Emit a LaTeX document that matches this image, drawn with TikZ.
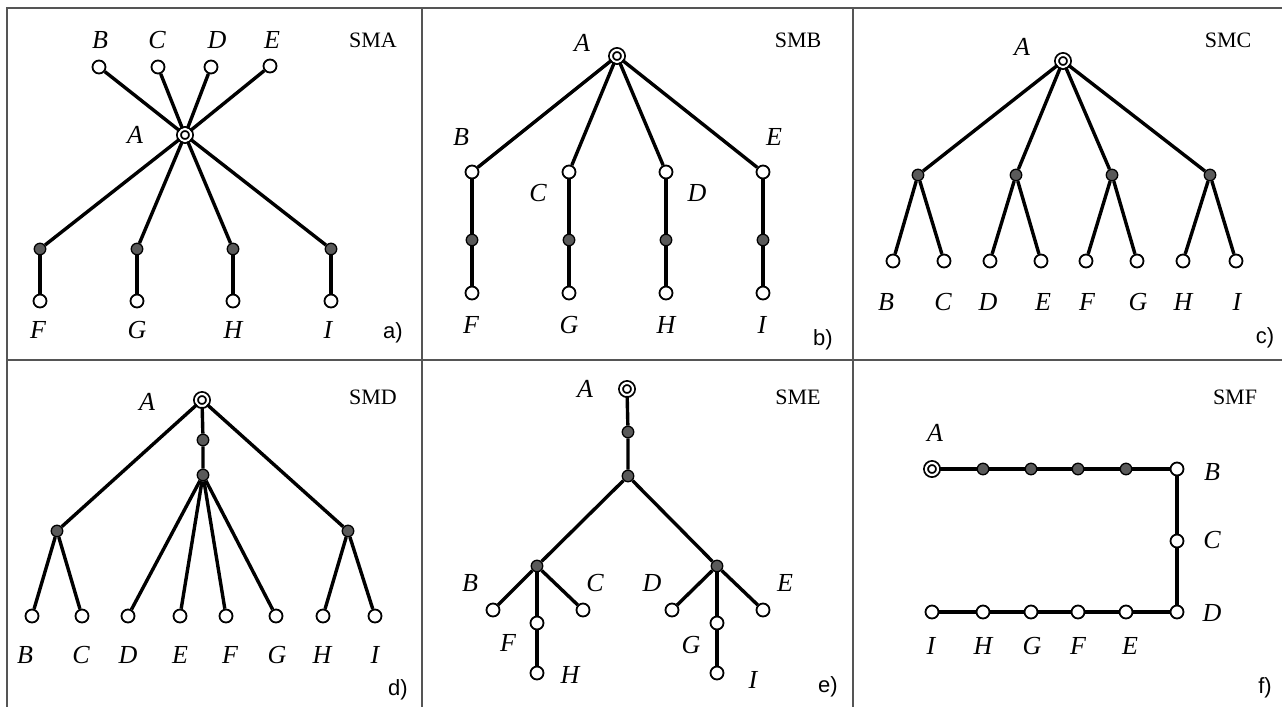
\documentclass[tikz,border=0pt]{standalone}
\usepackage{fontspec}
\setmainfont{Liberation Serif}
\newfontfamily\arialf{Liberation Sans}
\definecolor{dotgray}{HTML}{5A5A5A}
\definecolor{framegray}{HTML}{555555}
\tikzset{
 edge/.style={line width=3.4pt},
 opn/.style={circle, draw=black, fill=white, line width=1.8pt, minimum size=13pt, inner sep=0pt},
 gdot/.style={circle, draw=black, fill=dotgray, line width=1.3pt, minimum size=11.5pt, inner sep=0pt},
 root/.style={circle, draw=black, double=white, double distance=2.2pt, line width=1.8pt, fill=white, minimum size=12pt, inner sep=0pt},
 lbl/.style={font=\fontsize{26}{30}\selectfont\itshape, inner sep=0pt},
 ttl/.style={font=\fontsize{22}{25}\selectfont, inner sep=0pt},
 tag/.style={font=\arialf\fontsize{22}{25}\selectfont, inner sep=0pt},
 frame/.style={draw=framegray, line width=1.6pt}
}
\begin{document}
\begin{tikzpicture}[x=1pt,y=-1pt]
\useasboundingbox (0,0) rectangle (1282,707);
% frame
\draw[frame] (1282,8) -- (7,8) -- (7,707);
\draw[frame] (422,8) -- (422,707);
\draw[frame] (853,8) -- (853,707);
\draw[frame] (7,360) -- (1282,360);

% ---------- panel a ----------
\node[root] (aA) at (185,135) {};
\node[opn] (aB) at (99,67) {};
\node[opn] (aC) at (158,67) {};
\node[opn] (aD) at (211,67) {};
\node[opn] (aE) at (270,66) {};
\node[gdot] (aFg) at (40,249) {};
\node[gdot] (aGg) at (137,249) {};
\node[gdot] (aHg) at (233,249) {};
\node[gdot] (aIg) at (331,249) {};
\node[opn] (aF) at (40,301) {};
\node[opn] (aG) at (137,301) {};
\node[opn] (aH) at (233,301) {};
\node[opn] (aI) at (331,301) {};
\foreach \t in {B,C,D,E,Fg,Gg,Hg,Ig} \draw[edge] (aA) -- (a\t);
\draw[edge] (aFg) -- (aF); \draw[edge] (aGg) -- (aG);
\draw[edge] (aHg) -- (aH); \draw[edge] (aIg) -- (aI);
\node[lbl] (aAl) at (135,135) {A};
\node[lbl] (aBl) at (100,40) {B};
\node[lbl] (aCl) at (157,40) {C};
\node[lbl] (aDl) at (217,40) {D};
\node[lbl] (aEl) at (272,40) {E};
\node[lbl] (aFl) at (38,330) {F};
\node[lbl] (aGl) at (137,330) {G};
\node[lbl] (aHl) at (233,330) {H};
\node[lbl] (aIl) at (328,330) {I};
\node[ttl] (aT) at (373,40) {SMA};
\node[tag] (aK) at (393,333) {a)};

% ---------- panel b ----------
\node[root] (bA) at (617,56) {};
\node[opn] (bB) at (472,172) {};
\node[opn] (bC) at (569,172) {};
\node[opn] (bD) at (666,172) {};
\node[opn] (bE) at (763,172) {};
\node[gdot] (bBg) at (472,240) {};
\node[gdot] (bCg) at (569,240) {};
\node[gdot] (bDg) at (666,240) {};
\node[gdot] (bEg) at (763,240) {};
\node[opn] (bF) at (472,293) {};
\node[opn] (bG) at (569,293) {};
\node[opn] (bH) at (666,293) {};
\node[opn] (bI) at (763,293) {};
\foreach \t in {B,C,D,E} \draw[edge] (bA) -- (b\t);
\draw[edge] (bB) -- (bBg) -- (bF);
\draw[edge] (bC) -- (bCg) -- (bG);
\draw[edge] (bD) -- (bDg) -- (bH);
\draw[edge] (bE) -- (bEg) -- (bI);
\node[lbl] (bAl) at (582,43) {A};
\node[lbl] (bBl) at (461,137) {B};
\node[lbl] (bCl) at (538,193) {C};
\node[lbl] (bDl) at (697,193) {D};
\node[lbl] (bEl) at (774,137) {E};
\node[lbl] (bFl) at (471,325) {F};
\node[lbl] (bGl) at (569,325) {G};
\node[lbl] (bHl) at (666,325) {H};
\node[lbl] (bIl) at (762,325) {I};
\node[ttl] (bT) at (798,40) {SMB};
\node[tag] (bK) at (823,340) {b)};

% ---------- panel c ----------
\node[root] (cA) at (1063,61) {};
\node[gdot] (cg1) at (918,175) {};
\node[gdot] (cg2) at (1016,175) {};
\node[gdot] (cg3) at (1112,175) {};
\node[gdot] (cg4) at (1210,175) {};
\node[opn] (cB) at (893,261) {};
\node[opn] (cC) at (944,261) {};
\node[opn] (cD) at (990,261) {};
\node[opn] (cE) at (1041,261) {};
\node[opn] (cF) at (1086,261) {};
\node[opn] (cG) at (1137,261) {};
\node[opn] (cH) at (1183,261) {};
\node[opn] (cI) at (1236,261) {};
\foreach \t in {1,2,3,4} \draw[edge] (cA) -- (cg\t);
\draw[edge] (cB) -- (cg1) -- (cC);
\draw[edge] (cD) -- (cg2) -- (cE);
\draw[edge] (cF) -- (cg3) -- (cG);
\draw[edge] (cH) -- (cg4) -- (cI);
\node[lbl] (cAl) at (1022,47) {A};
\node[lbl] (cBl) at (886,302) {B};
\node[lbl] (cCl) at (943,302) {C};
\node[lbl] (cDl) at (988,302) {D};
\node[lbl] (cEl) at (1043,302) {E};
\node[lbl] (cFl) at (1087,302) {F};
\node[lbl] (cGl) at (1138,302) {G};
\node[lbl] (cHl) at (1183,302) {H};
\node[lbl] (cIl) at (1237,302) {I};
\node[ttl] (cT) at (1228,40) {SMC};
\node[tag] (cK) at (1265,338) {c)};

% ---------- panel d ----------
\node[root] (dA) at (202,400) {};
\node[gdot] (dm1) at (203,440) {};
\node[gdot] (dm2) at (203,475) {};
\node[gdot] (dL) at (57,531) {};
\node[gdot] (dR) at (348,531) {};
\node[opn] (dB) at (32,616) {};
\node[opn] (dC) at (82,616) {};
\node[opn] (dD) at (128,616) {};
\node[opn] (dE) at (180,616) {};
\node[opn] (dF) at (226,616) {};
\node[opn] (dG) at (276,616) {};
\node[opn] (dH) at (323,616) {};
\node[opn] (dI) at (375,616) {};
\draw[edge] (dA) -- (dL);
\draw[edge] (dA) -- (dR);
\draw[edge] (dA) -- (dm1) -- (dm2);
\draw[edge] (dB) -- (dL) -- (dC);
\draw[edge] (dH) -- (dR) -- (dI);
\foreach \t in {D,E,F,G} \draw[edge] (dm2) -- (d\t);
\node[lbl] (dAl) at (147,402) {A};
\node[lbl] (dBl) at (25,655) {B};
\node[lbl] (dCl) at (81,655) {C};
\node[lbl] (dDl) at (128,655) {D};
\node[lbl] (dEl) at (180,655) {E};
\node[lbl] (dFl) at (230,655) {F};
\node[lbl] (dGl) at (277,655) {G};
\node[lbl] (dHl) at (322,655) {H};
\node[lbl] (dIl) at (375,655) {I};
\node[ttl] (dT) at (373,397) {SMD};
\node[tag] (dK) at (398,690) {d)};

% ---------- panel e ----------
\node[root] (eA) at (627,389) {};
\node[gdot] (em1) at (628,432) {};
\node[gdot] (em2) at (628,476) {};
\node[gdot] (eL) at (537,566) {};
\node[gdot] (eR) at (717,566) {};
\node[opn] (eB) at (493,610) {};
\node[opn] (eC) at (583,610) {};
\node[opn] (eF) at (537,623) {};
\node[opn] (eH) at (537,673) {};
\node[opn] (eD) at (672,610) {};
\node[opn] (eE) at (763,610) {};
\node[opn] (eG) at (717,623) {};
\node[opn] (eI) at (717,673) {};
\draw[edge] (eA) -- (em1) -- (em2);
\draw[edge] (eL) -- (em2) -- (eR);
\draw[edge] (eB) -- (eL) -- (eC);
\draw[edge] (eL) -- (eF) -- (eH);
\draw[edge] (eD) -- (eR) -- (eE);
\draw[edge] (eR) -- (eG) -- (eI);
\node[lbl] (eAl) at (585,389) {A};
\node[lbl] (eBl) at (470,583) {B};
\node[lbl] (eCl) at (595,583) {C};
\node[lbl] (eDl) at (652,583) {D};
\node[lbl] (eEl) at (785,583) {E};
\node[lbl] (eFl) at (508,643) {F};
\node[lbl] (eHl) at (570,675) {H};
\node[lbl] (eGl) at (691,645) {G};
\node[lbl] (eIl) at (753,680) {I};
\node[ttl] (eT) at (798,397) {SME};
\node[tag] (eK) at (828,687) {e)};

% ---------- panel f ----------
\node[root] (fA) at (932,469) {};
\node[gdot] (fg1) at (983,469) {};
\node[gdot] (fg2) at (1031,469) {};
\node[gdot] (fg3) at (1078,469) {};
\node[gdot] (fg4) at (1126,469) {};
\node[opn] (fB) at (1177,469) {};
\node[opn] (fC) at (1177,541) {};
\node[opn] (fD) at (1177,612) {};
\node[opn] (fE) at (1126,612) {};
\node[opn] (fF) at (1078,612) {};
\node[opn] (fG) at (1031,612) {};
\node[opn] (fH) at (983,612) {};
\node[opn] (fI) at (932,612) {};
\draw[edge] (fA) -- (fg1) -- (fg2) -- (fg3) -- (fg4) -- (fB);
\draw[edge] (fB) -- (fC) -- (fD);
\draw[edge] (fD) -- (fE) -- (fF) -- (fG) -- (fH) -- (fI);
\node[lbl] (fAl) at (935,433) {A};
\node[lbl] (fBl) at (1212,472) {B};
\node[lbl] (fCl) at (1212,540) {C};
\node[lbl] (fDl) at (1212,613) {D};
\node[lbl] (fIl) at (931,646) {I};
\node[lbl] (fHl) at (983,646) {H};
\node[lbl] (fGl) at (1032,646) {G};
\node[lbl] (fFl) at (1078,646) {F};
\node[lbl] (fEl) at (1130,646) {E};
\node[ttl] (fT) at (1235,397) {SMF};
\node[tag] (fK) at (1265,688) {f)};
\end{tikzpicture}
\end{document}
